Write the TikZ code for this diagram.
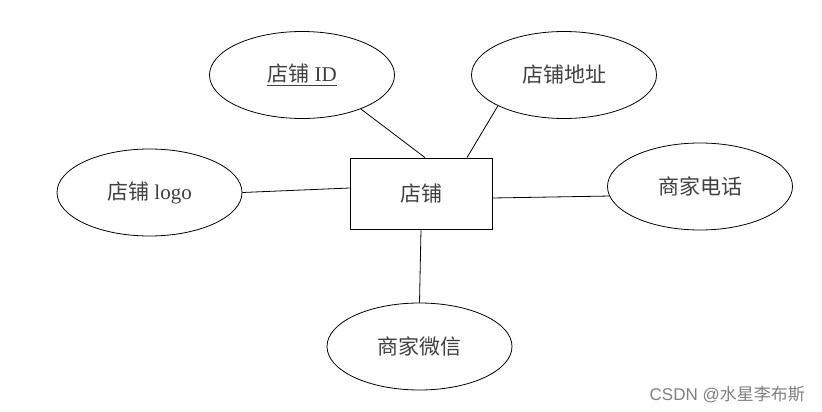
\documentclass[tikz,border=0pt]{standalone}
\usepackage{fontspec}
\setmainfont{Liberation Serif}
\newfontfamily\cjk{Noto Sans CJK SC}
\newfontfamily\wmfont{Liberation Sans}
\usetikzlibrary{shapes.geometric}
\begin{document}
\begin{tikzpicture}[x=1pt,y=-1pt,
  attr/.style={draw, ellipse, minimum width=185pt, minimum height=87pt, inner sep=0pt, line width=0.8pt, text=black!75, font=\fontsize{21}{25}\selectfont},
  ent/.style={draw, rectangle, minimum width=142pt, minimum height=71pt, inner sep=0pt, line width=0.8pt, text=black!75, font=\fontsize{21}{25}\selectfont},
  link/.style={line width=0.8pt},
  wm/.style={text=black!50, font=\wmfont\fontsize{17}{20}\selectfont, anchor=east, inner sep=0pt}]
\useasboundingbox[fill=white] (0,0) rectangle (822,412);
\node[ent] (r) at (421,193.5) {\cjk 店铺\hspace{8pt}};
\node[attr] (id) at (302,75) {\underline{{\cjk 店铺} ID}\hspace{16pt}};
\node[attr] (addr) at (564,75) {\cjk 店铺地址};
\node[attr] (logo) at (149.5,192.5) {{\cjk 店铺} logo};
\node[attr] (tel) at (700,186.5) {\cjk 商家电话};
\node[attr] (wx) at (419.5,346.5) {\cjk 商家微信};
\draw[link] (id.-30) -- ([xshift=4pt]r.north);
\draw[link] (addr.-155) -- ([xshift=46pt]r.north);
\draw[link] (logo.east) -- ([yshift=5.5pt]r.west);
\draw[link] (tel.186) -- ([yshift=-4.5pt]r.east);
\draw[link] (r.south) -- (wx.north);
\node[wm] (mark) at (805,395) {CSDN @{\cjk 水星李布斯}};
\end{tikzpicture}
\end{document}
